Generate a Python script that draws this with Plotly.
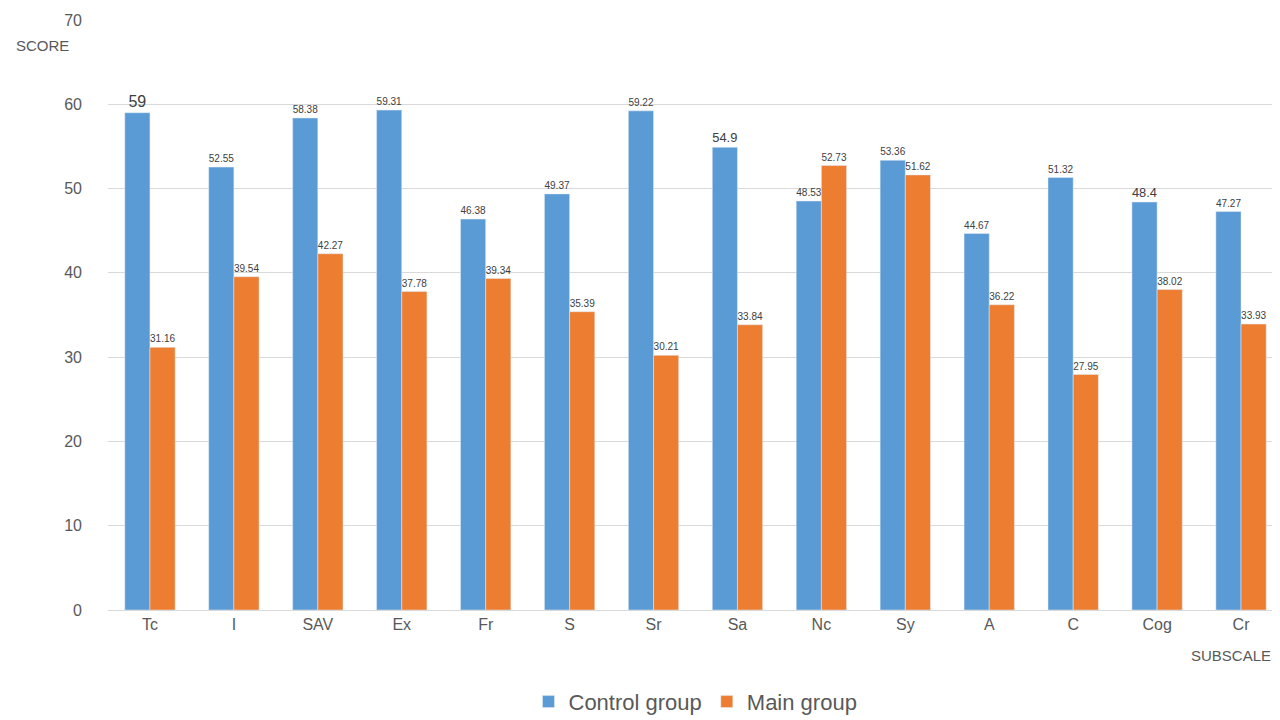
# Bar chart comparing subscale scores of the control and main groups

# Perform imports here:
import plotly.graph_objs as go

# subscale names and the scores of each group
subscales = ['Tc', 'I', 'SAV', 'Ex', 'Fr', 'S', 'Sr', 'Sa', 'Nc', 'Sy', 'A', 'C', 'Cog', 'Cr']
control = [59, 52.55, 58.38, 59.31, 46.38, 49.37, 59.22, 54.9, 48.53, 53.36, 44.67, 51.32, 48.4, 47.27]
main = [31.16, 39.54, 42.27, 37.78, 39.34, 35.39, 30.21, 33.84, 52.73, 51.62, 36.22, 27.95, 38.02, 33.93]

# create data with one bar trace per group
data = [go.Bar(x=subscales, y=control, name='Control group',
               marker=dict(color='#5B9BD5'),
               text=[str(v) for v in control], textposition='outside',
               textfont=dict(size=16, color='#404040'), cliponaxis=False),
        go.Bar(x=subscales, y=main, name='Main group',
               marker=dict(color='#ED7D31'),
               text=[str(v) for v in main], textposition='outside',
               textfont=dict(size=16, color='#404040'), cliponaxis=False)]

# create a layout with axis labels and the legend below
layout = go.Layout(width=1280, height=720,
                   font=dict(family='Liberation Sans', size=16, color='#595959'),
                   plot_bgcolor='white', paper_bgcolor='white',
                   margin=dict(l=100, r=5, t=12, b=109),
                   bargap=0.4, bargroupgap=0,
                   xaxis=dict(showline=True, linecolor='#D9D9D9', ticks=''),
                   yaxis=dict(range=[0, 70], dtick=10, gridcolor='#D9D9D9',
                              zeroline=False, ticklabelstandoff=25),
                   legend=dict(orientation='h', x=0.5, xanchor='center', y=-0.12,
                               yanchor='top', font=dict(size=22)),
                   annotations=[dict(text='SCORE', xref='paper', yref='paper',
                                     x=-0.08, y=0.975, showarrow=False,
                                     xanchor='left', font=dict(size=15)),
                                dict(text='SUBSCALES', xref='paper', yref='paper',
                                     x=1.0, y=-0.095, showarrow=False,
                                     xanchor='right', font=dict(size=15))])

# create a fig from data & layout, and write the fig
fig = go.Figure(data=data, layout=layout)
fig.write_html('out.html')
